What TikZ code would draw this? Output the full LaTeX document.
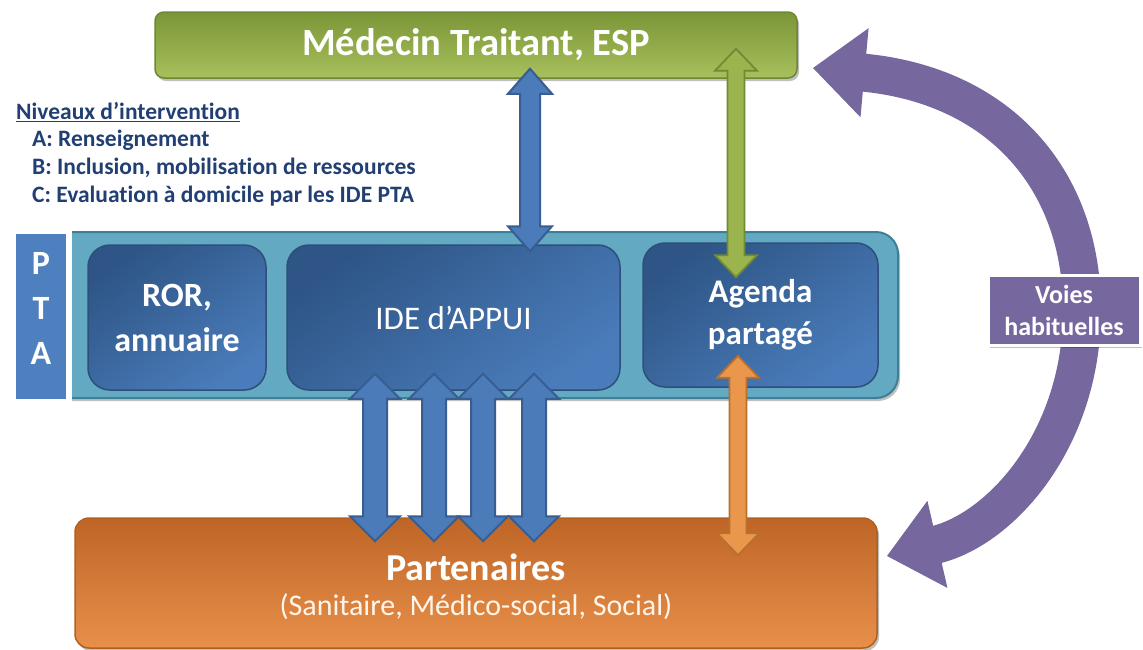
\documentclass[tikz,border=0pt]{standalone}
\usepackage{fontspec}
\setmainfont{Carlito}[Ligatures=NoCommon]
\usetikzlibrary{calc,arrows.meta,shadows}
\definecolor{greenTop}{HTML}{7B9638}
\definecolor{greenBot}{HTML}{A8C05C}
\definecolor{greenBorder}{HTML}{6C8832}
\definecolor{tealFill}{HTML}{62A9C1}
\definecolor{tealBorder}{HTML}{3D7F96}
\definecolor{blueDark}{HTML}{2E5585}
\definecolor{blueLight}{HTML}{4A7CBB}
\definecolor{blueBorder}{HTML}{2D4F7C}
\definecolor{ptaBlue}{HTML}{4E7FBE}
\definecolor{orangeTop}{HTML}{BE6527}
\definecolor{orangeBot}{HTML}{E8904A}
\definecolor{orangeBorder}{HTML}{B0611F}
\definecolor{purpleC}{HTML}{77679F}
\definecolor{textBlue}{HTML}{213F72}
\definecolor{arrBlue}{HTML}{4B7BB9}
\definecolor{arrBlueB}{HTML}{385D90}
\definecolor{arrGreen}{HTML}{9BB44D}
\definecolor{arrGreenB}{HTML}{6F8B34}
\definecolor{arrOrange}{HTML}{EA974D}
\definecolor{arrOrangeB}{HTML}{B8702C}
\tikzset{
  softshadow/.style={drop shadow={shadow xshift=2pt,shadow yshift=-3pt,opacity=0.25,fill=black}},
  bigbox/.style={rounded corners=9pt, line width=1.5pt, inner sep=0pt, align=center, text=white},
  innerbox/.style={rounded corners=22pt, line width=1.5pt, draw=blueBorder, top color=blueDark, bottom color=blueLight, shading angle=35, inner sep=0pt, align=center, text=white},
  legend/.style={anchor=west, inner sep=0pt, text=textBlue, font=\fontsize{23.5}{26}\selectfont\bfseries},
  bluearr/.style={fill=arrBlue, draw=arrBlueB, line width=2pt, line join=miter},
  greenarr/.style={fill=arrGreen, draw=arrGreenB, line width=1.8pt, line join=miter},
  orangearr/.style={fill=arrOrange, draw=arrOrangeB, line width=1.8pt, line join=miter},
}
% vertical double arrow: #1 top end, #2 bottom end, #3 half shaft, #4 half head, #5 head length, #6 style
\newcommand\vdarrow[6]{%
  \path[#6] let \p1=(#1), \p2=(#2) in
    (\x1,\y1) -- (\x1+#4,\y1-#5) -- (\x1+#3,\y1-#5) -- (\x1+#3,\y2+#5) -- (\x1+#4,\y2+#5) --
    (\x1,\y2) -- (\x1-#4,\y2+#5) -- (\x1-#3,\y2+#5) -- (\x1-#3,\y1-#5) -- (\x1-#4,\y1-#5) -- cycle;}
\begin{document}
\begin{tikzpicture}[x=1pt,y=-1pt]
\useasboundingbox (0,0) rectangle (1143,649);

\node[bigbox, minimum width=642pt, minimum height=66pt, draw=greenBorder, top color=greenTop, bottom color=greenBot, softshadow,
  font=\fontsize{38.5}{40}\selectfont\bfseries] (med) at (476,45) {Médecin Traitant, ESP};

\node[bigbox, rounded corners=14pt, minimum width=802pt, minimum height=130pt, draw=orangeBorder, top color=orangeTop, bottom color=orangeBot, softshadow] (part) at (476,583) {};
\node[text=white, font=\fontsize{38}{40}\selectfont\bfseries, inner sep=0pt] (parttitle) at (476,567) {Partenaires};
\node[text=white!92!orange, font=\fontsize{30}{32}\selectfont, inner sep=0pt] (partsub) at (476,607) {(Sanitaire, Médico-social, Social)};

\draw[purpleC, line width=38pt, {Triangle[width=86pt,length=52pt]}-{Triangle[width=86pt,length=52pt]}]
  ($(med.east)+(15,23)$) .. controls (1000,85) and (1082,180) .. (1082,310)
  .. controls (1082,440) and (1000,530) .. ($(part.east)+(9,-27)$);

\node[draw=white, line width=3pt, fill=purpleC, minimum width=152pt, minimum height=70pt, inner sep=0pt, align=center, text=white,
  font=\fontsize{26}{32}\selectfont\bfseries, softshadow] (voies) at (1064,310) {Voies\\habituelles};

% legend
\node[legend] (lg0) at (16,112) {\underline{Niveaux d’intervention}};
\node[legend] (lgA) at (32,140) {A: Renseignement};
\node[legend] (lgB) at (32,168) {B: Inclusion, mobilisation de ressources};
\node[legend] (lgC) at (32,196) {C: Evaluation à domicile par les IDE PTA};

% PTA band
\node[rounded corners=22pt, line width=2pt, draw=tealBorder, fill=tealFill, minimum width=878pt, minimum height=166pt, softshadow] (pta) at (459,315) {};
\node[draw=white, line width=6pt, fill=ptaBlue, minimum width=56pt, minimum height=171pt, inner sep=0pt, softshadow] (ptalabel) at (41,316.5) {};
\node[align=center, text=white, inner sep=0pt, font=\fontsize{34}{45}\selectfont\bfseries] (ptatext) at (ptalabel.center) [yshift=8pt] {P\\T\\A};

\node[innerbox, minimum width=178pt, minimum height=145pt, font=\fontsize{34}{45}\selectfont\bfseries] (ror) at (177,317.5) {ROR,\\annuaire};
\node[innerbox, minimum width=333pt, minimum height=145pt, font=\fontsize{33}{40}\selectfont] (ide) at (453.5,317.5) {IDE d’APPUI};
\node[innerbox, minimum width=235pt, minimum height=144pt, font=\fontsize{33}{42}\selectfont\bfseries] (agenda) at (760.5,315) {Agenda\\partagé};

% connectors
\vdarrow{$(med.south)+(54,-10)$}{$(ide.north)+(76.5,7)$}{10pt}{22pt}{25pt}{bluearr}
\vdarrow{$(med.south)+(260,-30)$}{$(agenda.north)+(-24.5,35)$}{8.5pt}{21pt}{22pt}{greenarr}
\vdarrow{$(agenda.south)+(-22.5,-32)$}{$(part.north)+(262,38)$}{8.5pt}{21pt}{22pt}{orangearr}
\vdarrow{$(ide.south)+(-78.5,-17)$}{$(part.north)+(-101,24)$}{12pt}{25pt}{25pt}{bluearr}
\vdarrow{$(ide.south)+(-19.5,-17)$}{$(part.north)+(-42,24)$}{12pt}{25pt}{25pt}{bluearr}
\vdarrow{$(ide.south)+(29.5,-17)$}{$(part.north)+(7,24)$}{12pt}{25pt}{25pt}{bluearr}
\vdarrow{$(ide.south)+(80.5,-17)$}{$(part.north)+(58,24)$}{12pt}{25pt}{25pt}{bluearr}
\end{tikzpicture}
\end{document}
